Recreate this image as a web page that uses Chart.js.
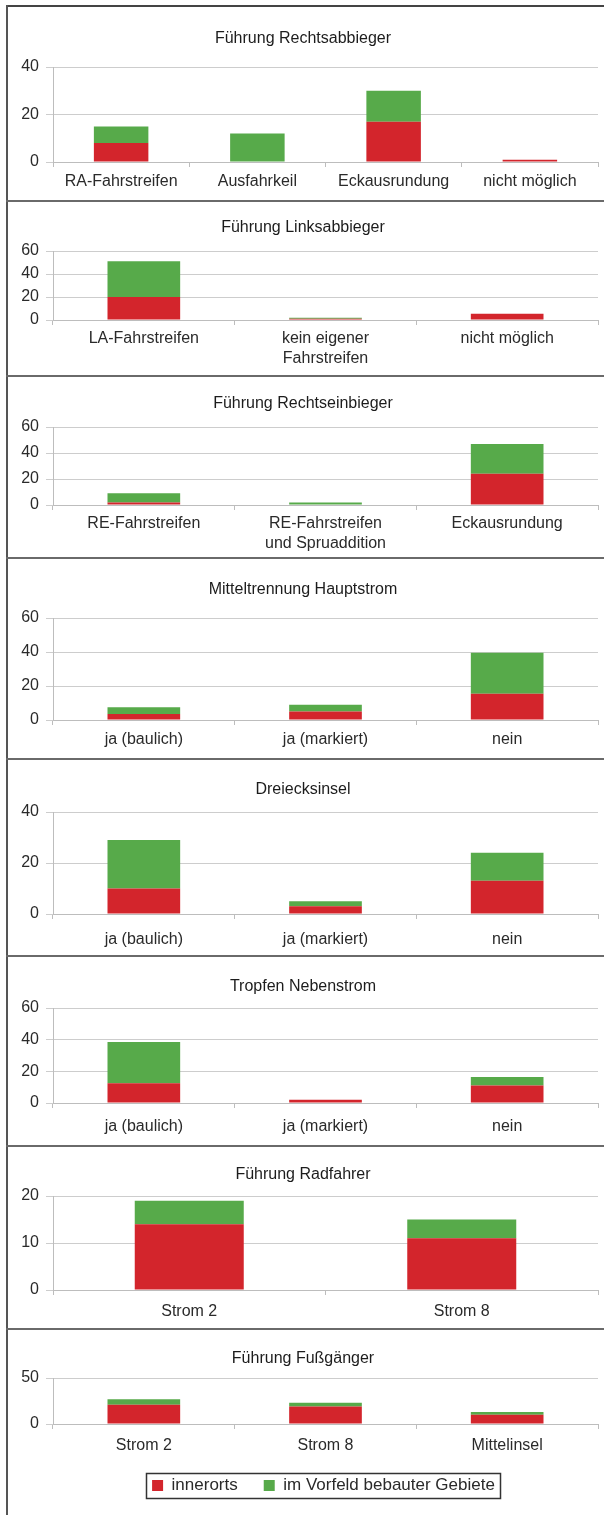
<!DOCTYPE html>
<html>
<head>
<meta charset="utf-8">
<script src="https://cdn.jsdelivr.net/npm/chart.js@4.4.1/dist/chart.umd.min.js"></script>
<style>
  html, body { margin: 0; padding: 0; background: #fff; }
  body { width: 604px; height: 1515px; position: relative; overflow: hidden; }
  .rule { position: absolute; background: #6a6a6a; }
  canvas { position: absolute; left: 8px; }
</style>
</head>
<body>
<script>
// ---- Kategorien und Werte (Anzahl Knotenpunkte) ----
const seriesNames = ['innerorts', 'im Vorfeld bebauter Gebiete'];

const titleRechtsab = 'Führung Rechtsabbieger';
const catsRechtsab  = ['RA-Fahrstreifen', 'Ausfahrkeil', 'Eckausrundung', 'nicht möglich'];
const innerRechtsab = [8, 0, 17, 1];
const outerRechtsab = [7, 12, 13, 0];
const ticksRechtsab = [0, 20, 40];

const titleLinksab = 'Führung Linksabbieger';
const catsLinksab  = ['LA-Fahrstreifen', ['kein eigener', 'Fahrstreifen'], 'nicht möglich'];
const innerLinksab = [20, 1, 5.5];
const outerLinksab = [31, 1, 0];
const ticksLinksab = [0, 20, 40, 60];

const titleRechtsein = 'Führung Rechtseinbieger';
const catsRechtsein  = ['RE-Fahrstreifen', ['RE-Fahrstreifen', 'und Spruaddition'], 'Eckausrundung'];
const innerRechtsein = [2, 0, 24];
const outerRechtsein = [7, 2, 23];
const ticksRechtsein = [0, 20, 40, 60];

const titleMittel = 'Mitteltrennung Hauptstrom';
const catsMittel  = ['ja (baulich)', 'ja (markiert)', 'nein'];
const innerMittel = [3.5, 5, 15.5];
const outerMittel = [4, 4, 24];
const ticksMittel = [0, 20, 40, 60];

const titleDreieck = 'Dreiecksinsel';
const catsDreieck  = ['ja (baulich)', 'ja (markiert)', 'nein'];
const innerDreieck = [10, 3, 13];
const outerDreieck = [19, 2, 11];
const ticksDreieck = [0, 20, 40];

const titleTropfen = 'Tropfen Nebenstrom';
const catsTropfen  = ['ja (baulich)', 'ja (markiert)', 'nein'];
const innerTropfen = [12.5, 2, 11];
const outerTropfen = [26, 0, 5.5];
const ticksTropfen = [0, 20, 40, 60];

const titleRad = 'Führung Radfahrer';
const catsRad  = ['Strom 2', 'Strom 8'];
const innerRad = [14, 11];
const outerRad = [5, 4];
const ticksRad = [0, 10, 20];

const titleFuss = 'Führung Fußgänger';
const catsFuss  = ['Strom 2', 'Strom 8', 'Mittelinsel'];
const innerFuss = [21, 19, 10];
const outerFuss = [6, 4, 3];
const ticksFuss = [0, 50];

// ---- Darstellung ----
const FONT = "'Liberation Sans', Arial, Helvetica, sans-serif";
const RED = '#d3252c';
const GREEN = '#57aa4a';
const TEXT = '#2a2a2a';
const GRID = '#cdcdcd';
const AXIS = '#bdbdbd';

const panels = [
  { title: titleRechtsab,  cats: catsRechtsab,  inner: innerRechtsab,  outer: outerRechtsab,  ticks: ticksRechtsab },
  { title: titleLinksab,   cats: catsLinksab,   inner: innerLinksab,   outer: outerLinksab,   ticks: ticksLinksab },
  { title: titleRechtsein, cats: catsRechtsein, inner: innerRechtsein, outer: outerRechtsein, ticks: ticksRechtsein },
  { title: titleMittel,    cats: catsMittel,    inner: innerMittel,    outer: outerMittel,    ticks: ticksMittel },
  { title: titleDreieck,   cats: catsDreieck,   inner: innerDreieck,   outer: outerDreieck,   ticks: ticksDreieck },
  { title: titleTropfen,   cats: catsTropfen,   inner: innerTropfen,   outer: outerTropfen,   ticks: ticksTropfen },
  { title: titleRad,       cats: catsRad,       inner: innerRad,       outer: outerRad,       ticks: ticksRad },
  { title: titleFuss,      cats: catsFuss,      inner: innerFuss,      outer: outerFuss,      ticks: ticksFuss }
];

// page geometry of each panel: canvas top/height, title centre, top & zero gridline, first label line
const frames = [
  { top: 7,    h: 193, titleY: 39,   plotTop: 67,   plotBottom: 162,  labelY: 182 },
  { top: 202,  h: 173, titleY: 228,  plotTop: 251,  plotBottom: 320,  labelY: 339 },
  { top: 377,  h: 180, titleY: 404,  plotTop: 427,  plotBottom: 505,  labelY: 524 },
  { top: 559,  h: 199, titleY: 590,  plotTop: 618,  plotBottom: 720,  labelY: 740 },
  { top: 760,  h: 195, titleY: 790,  plotTop: 812,  plotBottom: 914,  labelY: 940 },
  { top: 957,  h: 188, titleY: 987,  plotTop: 1008, plotBottom: 1103, labelY: 1127 },
  { top: 1147, h: 181, titleY: 1175, plotTop: 1196, plotBottom: 1290, labelY: 1312 },
  { top: 1330, h: 185, titleY: 1359, plotTop: 1378, plotBottom: 1424, labelY: 1446, legend: true }
];

// frame lines: outer top/left border and panel separators
function rule(x, y, w, h, color) {
  const d = document.createElement('div');
  d.className = 'rule';
  Object.assign(d.style, { left: x + 'px', top: y + 'px', width: w + 'px', height: h + 'px' });
  if (color) d.style.background = color;
  document.body.appendChild(d);
}
rule(6, 5, 598, 2, '#444');
rule(6, 5, 2, 1510, '#555');
[200, 375, 557, 758, 955, 1145, 1328].forEach(y => rule(6, y, 598, 2));

// centres the legend under the plot and frames it with a thin box
const legendFrame = {
  id: 'legendFrame',
  afterLayout(chart) {
    const lg = chart.legend;
    if (!lg || !lg.options.display) return;
    const ca = chart.chartArea;
    const dx = (ca.left + ca.right) / 2 - 2 - (lg.left + lg.right) / 2;
    lg.left += dx; lg.right += dx;
  },
  afterDraw(chart) {
    const lg = chart.legend;
    if (!lg || !lg.options.display || !lg.legendHitBoxes.length) return;
    const hb = lg.legendHitBoxes;
    const l = Math.min(...hb.map(b => b.left)) - 6;
    const r = Math.max(...hb.map(b => b.left + b.width)) + 5;
    const cy = hb[0].top + hb[0].height / 2;
    const ctx = chart.ctx;
    ctx.save();
    ctx.strokeStyle = '#333';
    ctx.lineWidth = 1.5;
    ctx.strokeRect(Math.round(l) + 0.5, Math.round(cy - 12.5) + 0.5, Math.round(r - l), 25);
    ctx.restore();
  }
};

const CANVAS_W = 596;
const PLOT_LEFT = 45;    // 52 on the page
const PAD_RIGHT = 6;     // gridlines end at 598 on the page
const TITLE_SIZE = 16;
const TITLE_LH = TITLE_SIZE * 1.2;
const LABEL_LH = 16 * 1.2;
const X_TICK = 5;

panels.forEach((p, i) => {
  const f = frames[i];
  const cv = document.createElement('canvas');
  cv.width = CANVAS_W; cv.height = f.h;
  cv.style.top = f.top + 'px';
  cv.style.width = CANVAS_W + 'px';
  cv.style.height = f.h + 'px';
  document.body.appendChild(cv);

  const titleTop = f.titleY - f.top - TITLE_LH / 2;
  const titleBottom = (f.plotTop - f.top) - titleTop - TITLE_LH;
  const labelPad = f.labelY - f.plotBottom - X_TICK - LABEL_LH / 2;
  const padBottom = f.legend ? 11 : 0;
  const max = p.ticks[p.ticks.length - 1];
  const step = p.ticks[1] - p.ticks[0];

  new Chart(cv, {
    type: 'bar',
    data: {
      labels: p.cats,
      datasets: [
        { label: seriesNames[0], data: p.inner, backgroundColor: RED, stack: 'k' },
        { label: seriesNames[1], data: p.outer, backgroundColor: GREEN, stack: 'k' }
      ]
    },
    options: {
      responsive: false,
      animation: false,
      devicePixelRatio: 1,
      layout: { padding: { left: 0, right: PAD_RIGHT, top: 0, bottom: padBottom } },
      datasets: { bar: { barPercentage: 0.4, categoryPercentage: 1, borderWidth: 0 } },
      plugins: {
        tooltip: { enabled: false },
        title: {
          display: true,
          text: p.title,
          color: '#1c1c1c',
          font: { family: FONT, size: TITLE_SIZE, weight: 'normal', lineHeight: 1.2 },
          padding: { top: titleTop, bottom: titleBottom }
        },
        legend: f.legend ? {
          display: true,
          position: 'bottom',
          align: 'center',
          labels: {
            boxWidth: 11, boxHeight: 11, padding: 26,
            color: TEXT,
            font: { family: FONT, size: 17 }
          }
        } : { display: false }
      },
      scales: {
        x: {
          stacked: true,
          grid: { offset: true, drawOnChartArea: false, drawTicks: true, tickLength: X_TICK, color: AXIS },
          border: { color: AXIS },
          ticks: {
            color: TEXT, autoSkip: false, maxRotation: 0, padding: labelPad,
            font: { family: FONT, size: 16, lineHeight: 1.2 }
          },
          afterFit(scale) {
            const lgH = (f.legend && scale.chart.legend) ? scale.chart.legend.height : 0;
            scale.height = f.h - (f.plotBottom - f.top) - padBottom - lgH;
          }
        },
        y: {
          stacked: true,
          min: 0, max: max,
          ticks: { stepSize: step, color: TEXT, padding: 7, font: { family: FONT, size: 16 } },
          grid: { color: GRID, tickLength: 7 },
          border: { color: AXIS },
          afterFit(scale) { scale.width = PLOT_LEFT; }
        }
      }
    },
    plugins: [legendFrame]
  });
});
</script>
</body>
</html>
